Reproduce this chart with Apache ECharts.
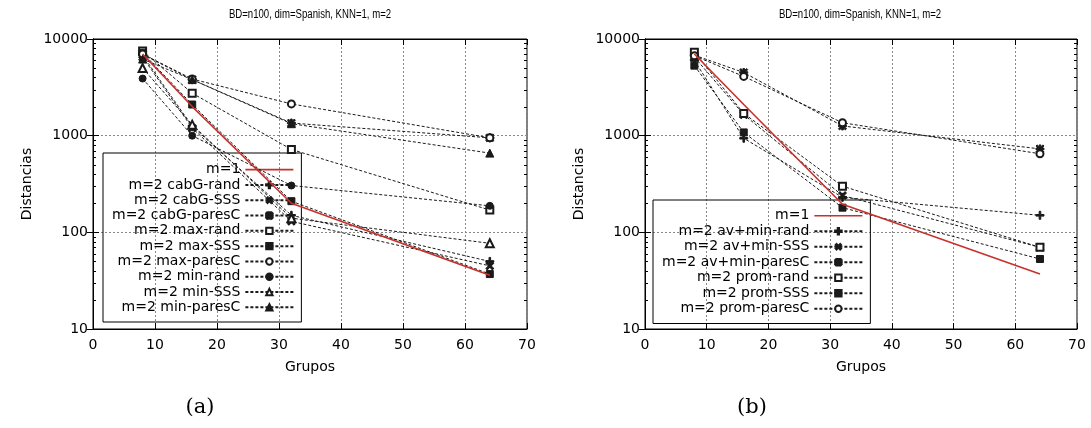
<!DOCTYPE html>
<html><head><meta charset="utf-8">
<script src="https://cdn.jsdelivr.net/npm/echarts@6/dist/echarts.min.js"></script>
<style>html,body{margin:0;padding:0;background:#fff}#c{width:1091px;height:428px}</style>
</head><body><div id="c"></div>
<script>
// ---------- data ----------
const GROUPS = [8, 16, 32, 64];
const X_TICKS = [0, 10, 20, 30, 40, 50, 60, 70];
const Y_TICKS = [10, 100, 1000, 10000];
const MINOR_TICKS = [20, 30, 40, 50, 60, 70, 80, 90, 200, 300, 400, 500, 600, 700, 800, 900, 2000, 3000, 4000, 5000, 6000, 7000, 8000, 9000];
const TITLE = 'BD=n100, dim=Spanish, KNN=1, m=2';
const CAPTIONS = ['(a)', '(b)'];
const X_NAME = 'Grupos';
const Y_NAME = 'Distancias';

// panel (a)
const A_NAMES = ['m=1', 'm=2 cabG-rand', 'm=2 cabG-SSS', 'm=2 cabG-paresC', 'm=2 max-rand', 'm=2 max-SSS', 'm=2 max-paresC', 'm=2 min-rand', 'm=2 min-SSS', 'm=2 min-paresC'];
const A_M1          = [7000, 2000, 200, 36];
const A_CABG_RAND   = [6800, 1250, 150, 50];
const A_CABG_SSS    = [6500, 1200, 130, 45];
const A_CABG_PARESC = [6900, 3800, 1350, 950];
const A_MAX_RAND    = [7500, 2750, 720, 170];
const A_MAX_SSS     = [7200, 2100, 210, 37];
const A_MAX_PARESC  = [7000, 3850, 2130, 950];
const A_MIN_RAND    = [3900, 1000, 305, 188];
const A_MIN_SSS     = [5000, 1300, 140, 77];
const A_MIN_PARESC  = [6200, 3800, 1330, 660];

// panel (b)
const B_NAMES = ['m=1', 'm=2 av+min-rand', 'm=2 av+min-SSS', 'm=2 av+min-paresC', 'm=2 prom-rand', 'm=2 prom-SSS', 'm=2 prom-paresC'];
const B_M1            = [7000, 2100, 195, 37];
const B_AVMIN_RAND    = [6000, 940, 230, 150];
const B_AVMIN_SSS     = [6500, 1650, 240, 70];
const B_AVMIN_PARESC  = [6800, 4500, 1260, 730];
const B_PROM_RAND     = [7300, 1700, 300, 70];
const B_PROM_SSS      = [5300, 1080, 180, 53];
const B_PROM_PARESC   = [6700, 4100, 1360, 650];

// ---------- styling ----------
const FONT = 'DejaVu Sans';
const INK = '#1a1a1a';
const RED = '#c8302a';
const PLUS = 'path://M4,0H6V4H10V6H6V10H4V6H0V4H4Z';
const STAR = 'path://M4,0H6V4H10V6H6V10H4V6H0V4H4Z M1.4,0L10,8.6L8.6,10L0,1.4Z M8.6,0L10,1.4L1.4,10L0,8.6Z';
const RED_LINE_ICON = 'path://M0,0H48V1.6H0Z';
const MARKS = [
  null,
  {symbol: PLUS, rot: 0, size: 8},
  {symbol: PLUS, rot: 45, size: 9},
  {symbol: STAR, rot: 0, size: 8},
  {symbol: 'emptyRect', rot: 0, size: 7},
  {symbol: 'rect', rot: 0, size: 7},
  {symbol: 'emptyCircle', rot: 0, size: 7},
  {symbol: 'circle', rot: 0, size: 7},
  {symbol: 'emptyTriangle', rot: 0, size: 8},
  {symbol: 'triangle', rot: 0, size: 8}
];

function pairs(vals) { return GROUPS.map((g, i) => [g, vals[i]]); }

function lineSeries(name, vals, idx) {
  if (idx === 0) {
    return {type: 'line', name, data: pairs(vals),
      symbol: 'none', lineStyle: {color: RED, width: 1.6, type: 'solid'}, itemStyle: {color: RED},
      z: 5, silent: true, animation: false};
  }
  const m = MARKS[idx];
  return {type: 'line', name, data: pairs(vals),
    symbol: m.symbol, symbolSize: m.size, symbolRotate: m.rot,
    lineStyle: {color: INK, width: 1, type: [3, 2]},
    itemStyle: {color: INK, borderColor: INK, borderWidth: 1},
    z: 4, silent: true, animation: false};
}

function minorTicks(params, api) {
  const v = api.value(1);
  const L = api.coord([X_TICKS[0], v]);
  const R = api.coord([X_TICKS[X_TICKS.length - 1], v]);
  const y = Math.round(L[1]) + 0.5;
  return {type: 'group', children: [
    {type: 'line', shape: {x1: L[0], y1: y, x2: L[0] + 3, y2: y}, style: {stroke: '#000', lineWidth: 1}},
    {type: 'line', shape: {x1: R[0] - 3, y1: y, x2: R[0], y2: y}, style: {stroke: '#000', lineWidth: 1}}
  ]};
}

const GRIDS = [
  {left: 93, top: 39, width: 434, height: 290},
  {left: 645, top: 39, width: 432, height: 290}
];

const xAxes = [], yAxes = [];
GRIDS.forEach((g, gi) => {
  xAxes.push({type: 'value', gridIndex: gi, min: X_TICKS[0], max: X_TICKS[X_TICKS.length - 1], interval: X_TICKS[1] - X_TICKS[0],
    position: 'bottom', name: X_NAME, nameLocation: 'middle', nameGap: 31,
    nameTextStyle: {fontFamily: FONT, fontSize: 14, color: '#000'},
    axisLine: {show: true, lineStyle: {color: '#000', width: 1}},
    axisTick: {show: true, inside: true, length: 6, lineStyle: {color: '#000'}},
    axisLabel: {fontFamily: FONT, fontSize: 14, color: '#000', margin: 9},
    splitLine: {show: true, lineStyle: {color: '#888', type: [2, 2], width: 1}}});
  xAxes.push({type: 'value', gridIndex: gi, min: X_TICKS[0], max: X_TICKS[X_TICKS.length - 1], interval: X_TICKS[1] - X_TICKS[0],
    position: 'top',
    axisLine: {show: true, lineStyle: {color: '#000', width: 1}},
    axisTick: {show: true, inside: true, length: 6, lineStyle: {color: '#000'}},
    axisLabel: {show: false}, splitLine: {show: false}});
  yAxes.push({type: 'log', logBase: 10, gridIndex: gi, min: Y_TICKS[0], max: Y_TICKS[Y_TICKS.length - 1], splitNumber: 3,
    position: 'left', name: Y_NAME, nameLocation: 'middle', nameGap: 59, nameRotate: 90,
    nameTextStyle: {fontFamily: FONT, fontSize: 14, color: '#000'},
    axisLine: {show: true, lineStyle: {color: '#000', width: 1}},
    axisTick: {show: true, inside: true, length: 6, lineStyle: {color: '#000'}},
    axisLabel: {fontFamily: FONT, fontSize: 14, color: '#000', margin: 5, formatter: v => String(Math.round(v))},
    splitLine: {show: true, lineStyle: {color: '#888', type: [2, 2], width: 1}}});
  yAxes.push({type: 'log', logBase: 10, gridIndex: gi, min: Y_TICKS[0], max: Y_TICKS[Y_TICKS.length - 1], splitNumber: 3,
    position: 'right',
    axisLine: {show: true, lineStyle: {color: '#000', width: 1}},
    axisTick: {show: true, inside: true, length: 6, lineStyle: {color: '#000'}},
    axisLabel: {show: false}, splitLine: {show: false}});
});

const series = [];
const aVals = [A_M1, A_CABG_RAND, A_CABG_SSS, A_CABG_PARESC, A_MAX_RAND, A_MAX_SSS, A_MAX_PARESC, A_MIN_RAND, A_MIN_SSS, A_MIN_PARESC];
const bVals = [B_M1, B_AVMIN_RAND, B_AVMIN_SSS, B_AVMIN_PARESC, B_PROM_RAND, B_PROM_SSS, B_PROM_PARESC];
A_NAMES.forEach((n, i) => { const s = lineSeries(n, aVals[i], i); s.xAxisIndex = 0; s.yAxisIndex = 0; series.push(s); });
B_NAMES.forEach((n, i) => { const s = lineSeries(n + ' ', bVals[i], i); s.xAxisIndex = 2; s.yAxisIndex = 2; series.push(s); });
[0, 2].forEach(ai => {
  series.push({type: 'custom', name: 'minor' + ai, xAxisIndex: ai, yAxisIndex: ai, renderItem: minorTicks,
    data: MINOR_TICKS.map(v => [X_TICKS[0], v]), encode: {x: 0, y: 1}, clip: false, silent: true, z: 6, animation: false});
});

function legendData(names, suffix) {
  return names.map((n, i) => i === 0 ? {name: n + suffix, icon: RED_LINE_ICON} : {name: n + suffix});
}

const legendBase = {orient: 'vertical', align: 'right', itemGap: 0, itemHeight: 8,
  borderColor: '#000', borderWidth: 1, borderRadius: 0, backgroundColor: 'transparent',
  textStyle: {fontFamily: FONT, fontSize: 14, color: '#000', lineHeight: 15.3},
  formatter: n => n.trim(),
  inactiveColor: '#000', selectedMode: false};

const titleFont = '12px "Liberation Sans", sans-serif';
const option = {
  animation: false,
  backgroundColor: '#fff',
  grid: GRIDS.map(g => Object.assign({show: true, borderColor: '#000', borderWidth: 1, backgroundColor: 'transparent'}, g)),
  xAxis: xAxes,
  yAxis: yAxes,
  legend: [
    Object.assign({}, legendBase, {left: 103, top: 153, itemWidth: 48, padding: [9, 7, 7, 9], data: legendData(A_NAMES, '')}),
    Object.assign({}, legendBase, {left: 653, top: 200, itemWidth: 48, padding: [8, 7, 7, 9],
      textStyle: Object.assign({}, legendBase.textStyle, {lineHeight: 15.5}), data: legendData(B_NAMES, ' ')})
  ],
  graphic: [
    {type: 'text', x: 310, y: 15, scaleX: 0.8, style: {text: TITLE, font: titleFont, fill: '#000', textAlign: 'center', textVerticalAlign: 'middle'}},
    {type: 'text', x: 860, y: 15, scaleX: 0.8, style: {text: TITLE, font: titleFont, fill: '#000', textAlign: 'center', textVerticalAlign: 'middle'}},
    {type: 'text', x: 200, y: 408, style: {text: CAPTIONS[0], font: '21px "DejaVu Serif", serif', fill: '#000', textAlign: 'center', textVerticalAlign: 'middle'}},
    {type: 'text', x: 752, y: 408, style: {text: CAPTIONS[1], font: '21px "DejaVu Serif", serif', fill: '#000', textAlign: 'center', textVerticalAlign: 'middle'}}
  ],
  series
};

const chart = echarts.init(document.getElementById('c'), null, {renderer: 'canvas'});
chart.setOption(option);
</script>
</body></html>
